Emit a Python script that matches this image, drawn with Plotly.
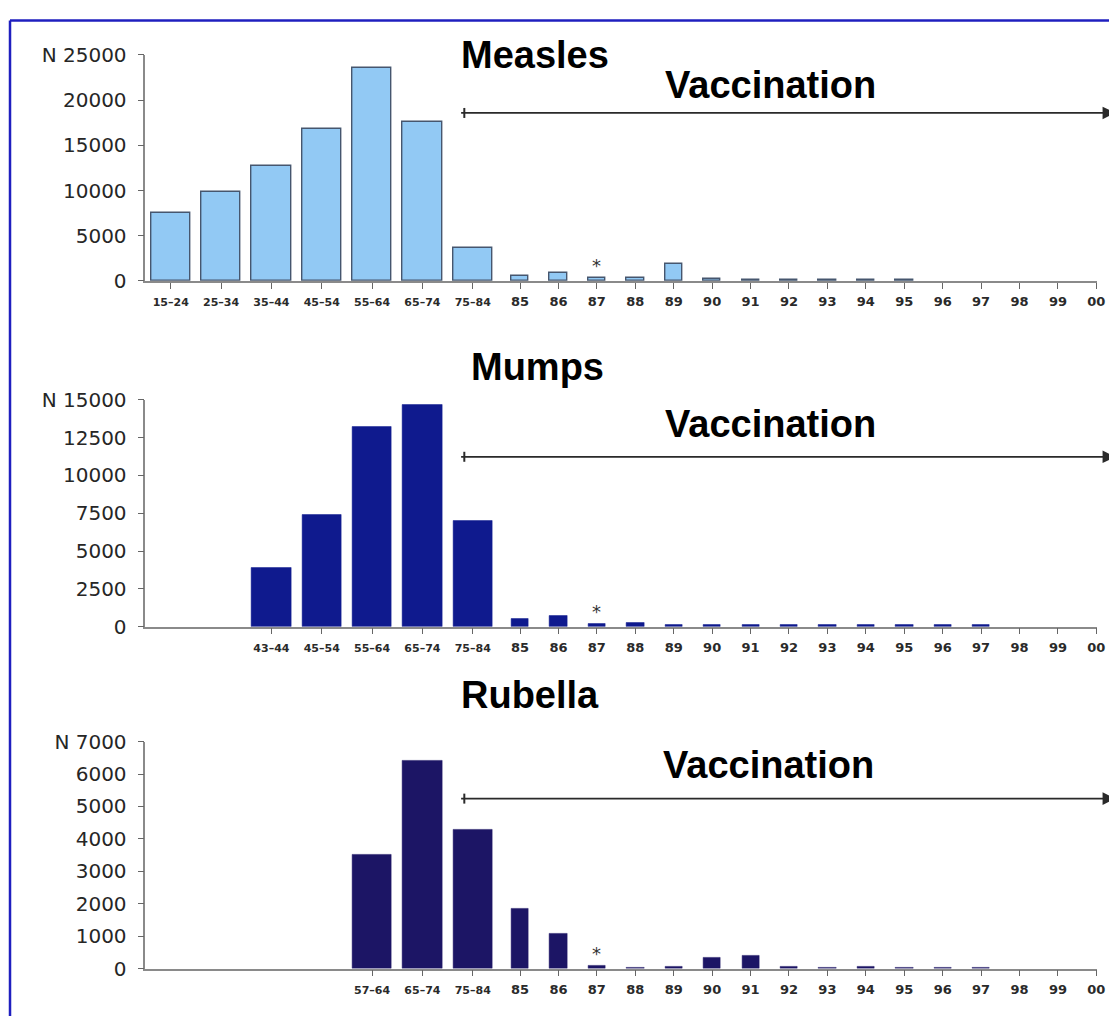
import plotly.graph_objects as go
from plotly.subplots import make_subplots

# ---------------- data ----------------
YEARS = ["85", "86", "87", "88", "89", "90", "91", "92", "93", "94",
         "95", "96", "97", "98", "99", "00"]

MEASLES_AGES = ["15–24", "25–34", "35–44", "45–54", "55–64", "65–74", "75–84"]
MEASLES_AGE_N = [7500, 9800, 12700, 16800, 23600, 17600, 3600]
MEASLES_YEAR_N = [550, 900, 350, 350, 1900, 200, 150, 100, 150, 150, 150, 0, 0, 0, 0, 0]

MUMPS_AGES = ["43–44", "45–54", "55–64", "65–74", "75–84"]
MUMPS_AGE_N = [3900, 7400, 13200, 14700, 7000]
MUMPS_YEAR_N = [530, 720, 200, 250, 100, 100, 100, 100, 100, 120, 100, 150, 150, 0, 0, 0]

RUBELLA_AGES = ["57–64", "65–74", "75–84"]
RUBELLA_AGE_N = [3500, 6400, 4300]
RUBELLA_YEAR_N = [1850, 1070, 80, 40, 50, 350, 400, 50, 30, 50, 20, 20, 20, 0, 0, 0]

DISEASES = ["Measles", "Mumps", "Rubella"]
Y_MAX = [25000, 15000, 7000]
Y_STEP = [5000, 2500, 1000]
STAR_YEAR = "87"

# ---------------- layout helpers ----------------
W, H = 1120, 1022
SX, OX = 0.99, 8      # screen-x = OX + SX * figure-x
SY, OY = 0.977, 18    # screen-y = OY + SY * figure-y
SLOT = 1.31   # spacing of age-group slots (in year units)
GAP = 1.23    # distance from last age group to first year


def age_pos(i, n):
    # age groups are right-aligned to the 75-84 slot
    return (7 - n + i) * SLOT


def year_pos(j):
    return 6 * SLOT + GAP + j


def px(x):
    return ((x - OX) / SX) / W


def py(y):
    return 1 - ((y - OY) / SY) / H


panels = [
    (MEASLES_AGES, MEASLES_AGE_N, MEASLES_YEAR_N, "#92c9f4", "#46566e", 1.4),
    (MUMPS_AGES, MUMPS_AGE_N, MUMPS_YEAR_N, "#0f1a8e", "#0f1a8e", 0.5),
    (RUBELLA_AGES, RUBELLA_AGE_N, RUBELLA_YEAR_N, "#1c1565", "#1c1565", 0.5),
]

# target pixel geometry of the three plot areas (top, zero-line)
PANEL_PIX = [(53, 279), (398, 625), (740, 967)]
TITLE_PIX = [(533, 53), (536, 365), (528, 693)]
VAC_PIX = [(768, 83), (768, 422), (766, 763)]
ARROW_Y = [111, 455, 797]
AX_LEFT, AX_RIGHT = 145, 1094

fig = make_subplots(rows=3, cols=1)

TICK_FONT = dict(family="DejaVu Sans", size=20, color="#262626")
XTICK_FONT = dict(family="DejaVu Sans", size=13, color="#2a2a2a", weight="bold")
TITLE_FONT = dict(family="Liberation Sans, Arial", size=38, color="#000",
                  weight="bold")

annotations = []
shapes = []

for k, (ages, age_n, year_n, fill, line, lw) in enumerate(panels):
    n = len(ages)
    xs = [age_pos(i, n) for i in range(n)] + [year_pos(j) for j in range(len(YEARS))]
    ys = list(age_n) + list(year_n)
    labels = list(ages) + YEARS
    widths = [1.02] * n + [0.45] * len(YEARS)
    line_w = [lw if v > 0 else 0 for v in ys]
    fig.add_trace(
        go.Bar(x=xs, y=ys, width=widths,
               marker=dict(color=fill, line=dict(color=line, width=line_w)),
               showlegend=False, hoverinfo="x+y"),
        row=k + 1, col=1)

    ticktext = []
    for lab in labels:
        if "–" in lab:
            ticktext.append('<span style="font-size:11px">' + lab + "</span>")
        else:
            ticktext.append(lab)

    top, zero = PANEL_PIX[k]
    xa = "xaxis" if k == 0 else f"xaxis{k + 1}"
    ya = "yaxis" if k == 0 else f"yaxis{k + 1}"
    fig.layout[xa].update(
        domain=[px(AX_LEFT), px(AX_RIGHT)],
        range=[-0.66, year_pos(len(YEARS) - 1) + 0.02],
        tickmode="array", tickvals=xs, ticktext=ticktext,
        ticks="outside", ticklen=6, tickwidth=1.2, tickcolor="#666",
        showline=True, linecolor="#8a8a8a", linewidth=1.6,
        showgrid=False, zeroline=False, tickfont=XTICK_FONT,
        ticklabelstandoff=2, fixedrange=True,
    )
    yvals = list(range(0, Y_MAX[k] + 1, Y_STEP[k]))
    ytext = [str(v) for v in yvals]
    ytext[-1] = "N " + ytext[-1]
    fig.layout[ya].update(
        domain=[py(zero), py(top)],
        range=[0, Y_MAX[k]],
        tickmode="array", tickvals=yvals, ticktext=ytext,
        ticks="outside", ticklen=6, tickwidth=1.2, tickcolor="#666",
        showline=True, linecolor="#8a8a8a", linewidth=1.6,
        showgrid=False, zeroline=False, tickfont=TICK_FONT,
        ticklabelstandoff=7, fixedrange=True,
    )

    # asterisk over 1987
    j = YEARS.index(STAR_YEAR)
    annotations.append(dict(
        x=year_pos(j), y=year_n[j], xref=f"x{k + 1}" if k else "x",
        yref=f"y{k + 1}" if k else "y", text="*", showarrow=False,
        yanchor="bottom", yshift=0,
        font=dict(family="DejaVu Sans", size=18, color="#333")))

    # titles
    tx, ty = TITLE_PIX[k]
    annotations.append(dict(
        x=px(tx), y=py(ty), xref="paper", yref="paper", text=DISEASES[k],
        showarrow=False, xanchor="center", yanchor="middle", font=TITLE_FONT))
    vx, vy = VAC_PIX[k]
    annotations.append(dict(
        x=px(vx), y=py(vy), xref="paper", yref="paper", text="Vaccination",
        showarrow=False, xanchor="center", yanchor="middle", font=TITLE_FONT))

    # vaccination arrow
    ay = ARROW_Y[k]
    tip, start = 1112, 463
    annotations.append(dict(
        x=px(tip), y=py(ay), xref="paper", yref="paper", text="",
        showarrow=True, ax=-(tip - start) / SX, ay=0, arrowhead=2,
        arrowsize=1.4, arrowwidth=1.8, arrowcolor="#2a2a2a", standoff=0))
    shapes.append(dict(type="line", xref="paper", yref="paper",
                       x0=px(start), x1=px(start), y0=py(ay - 5), y1=py(ay + 5),
                       line=dict(color="#2a2a2a", width=2)))

# frame (left and top edges visible)
shapes.append(dict(type="line", xref="paper", yref="paper",
                   x0=px(10), x1=px(10), y0=0, y1=0.9995,
                   line=dict(color="#1f1fbf", width=2.5)))
shapes.append(dict(type="line", xref="paper", yref="paper",
                   x0=px(10), x1=1, y0=0.9995, y1=0.9995,
                   line=dict(color="#1f1fbf", width=2.5)))

fig.update_layout(
    width=W, height=H,
    margin=dict(l=0, r=0, t=0, b=0),
    paper_bgcolor="white", plot_bgcolor="white",
    bargap=0, annotations=annotations, shapes=shapes,
    showlegend=False,
)

fig.write_html("out.html")
